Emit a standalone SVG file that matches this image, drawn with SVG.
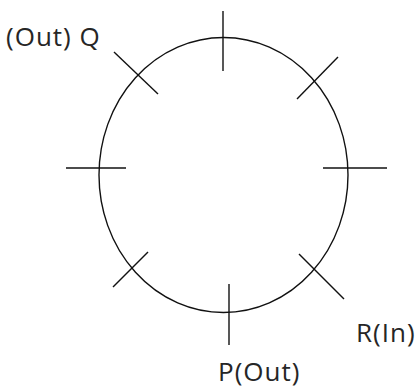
<svg xmlns="http://www.w3.org/2000/svg" width="417" height="390" viewBox="0 0 417 390">
<style>
.lbl{font-family:"Open Sans","Liberation Sans",sans-serif;font-size:26px;letter-spacing:1px;fill:#262626}
.tick{stroke:#111;stroke-width:1.4;fill:none}
.ring{stroke:#111;stroke-width:1.4;fill:none}
</style>
<rect width="417" height="390" fill="#fff"/>
<g id="circle"><ellipse class="ring" cx="223.5" cy="175" rx="124.5" ry="137.5"/></g>
<g id="connectors">
<line class="tick" x1="223" y1="11" x2="223" y2="71"/>
<line class="tick" x1="114" y1="52" x2="158" y2="94"/>
<line class="tick" x1="338" y1="57" x2="297" y2="99"/>
<line class="tick" x1="66" y1="168" x2="126" y2="168"/>
<line class="tick" x1="323" y1="168" x2="387" y2="168"/>
<line class="tick" x1="113" y1="287" x2="148" y2="252"/>
<line class="tick" x1="299" y1="254" x2="344" y2="299"/>
<line class="tick" x1="229" y1="284" x2="229" y2="345"/>
</g>
<g id="Q"><text class="lbl" x="6" y="46">(Out) Q</text></g>
<g id="R"><text class="lbl" x="356" y="342">R(In)</text></g>
<g id="P"><text class="lbl" x="218" y="381">P(Out)</text></g>
</svg>
